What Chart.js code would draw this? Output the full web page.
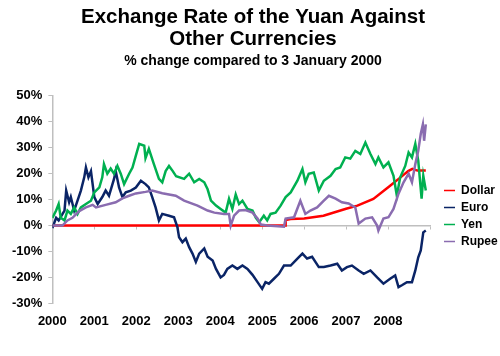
<!DOCTYPE html>
<html><head><meta charset="utf-8">
<script src="https://cdn.jsdelivr.net/npm/chart.js@4"></script>
<style>html,body{margin:0;padding:0;background:#fff}#wrap{width:500px;height:356px}</style>
</head><body><div id="wrap"><canvas id="c" width="500" height="356"></canvas></div>
<script>
const yearTicks = [2000,2001,2002,2003,2004,2005,2006,2007,2008,2009];

const dollarX = [2000,2005.55,2005.56,2005.68,2006.0,2006.46,2007.0,2007.27,2007.65,2008.05,2008.29,2008.48,2008.58,2008.7,2008.9];
const dollarY = [0,0,2.1,2.5,2.7,3.8,6.5,7.7,10.3,15.4,18.5,21.0,21.9,21.2,21.2];

const euroX = [2000,2000.09,2000.15,2000.29,2000.33,2000.4,2000.44,2000.52,2000.6,2000.68,2000.76,2000.8,2000.86,2000.92,2001.0,2001.08,2001.19,2001.27,2001.35,2001.47,2001.51,2001.59,2001.67,2001.75,2001.87,2001.99,2002.11,2002.22,2002.3,2002.38,2002.46,2002.54,2002.62,2002.78,2002.9,2002.98,2003.02,2003.1,2003.18,2003.26,2003.34,2003.42,2003.5,2003.62,2003.7,2003.82,2003.9,2004.01,2004.09,2004.17,2004.29,2004.41,2004.53,2004.65,2004.77,2004.89,2005.0,2005.08,2005.16,2005.28,2005.4,2005.52,2005.68,2005.84,2005.96,2006.07,2006.19,2006.35,2006.47,2006.63,2006.79,2006.9,2007.02,2007.14,2007.3,2007.42,2007.58,2007.74,2007.89,2008.05,2008.17,2008.25,2008.33,2008.45,2008.57,2008.65,2008.72,2008.78,2008.84,2008.9];
const euroY = [-1,3,2,5.8,13.5,9,11,5.8,9.6,13.5,18.6,22.4,18.6,21,11,8.3,11,13.5,11.5,18,21,14.7,11,12.8,13.5,14.7,17.3,16,14.7,11,7,2,4.5,3.8,3.2,-0.6,-4.5,-6.4,-5,-8.3,-10.8,-14,-10.8,-8.8,-12,-13.5,-16.7,-20,-19,-16.7,-15.4,-16.7,-15.4,-16.7,-19,-21.8,-24.4,-21.8,-22.4,-20.5,-18.6,-15.4,-15.4,-12.7,-10.8,-12.7,-12,-16,-16,-15.4,-14.7,-17.3,-16,-15.4,-17.3,-18.6,-17.3,-20,-22.4,-20.5,-19.2,-23.7,-23,-21.8,-21.8,-17.3,-12.2,-9.6,-2.6,-1.9];

const yenX = [2000,2000.09,2000.15,2000.2,2000.29,2000.36,2000.44,2000.52,2000.6,2000.68,2000.8,2000.92,2001.0,2001.12,2001.19,2001.23,2001.31,2001.39,2001.47,2001.55,2001.63,2001.71,2001.83,2001.91,2001.99,2002.07,2002.19,2002.22,2002.3,2002.42,2002.54,2002.62,2002.7,2002.78,2002.87,2002.95,2003.14,2003.26,2003.38,2003.5,2003.62,2003.7,2003.78,2003.9,2004.01,2004.13,2004.21,2004.29,2004.37,2004.45,2004.53,2004.65,2004.77,2004.85,2004.93,2005.04,2005.12,2005.2,2005.32,2005.44,2005.56,2005.68,2005.84,2005.96,2006.03,2006.11,2006.23,2006.35,2006.47,2006.63,2006.75,2006.86,2006.98,2007.1,2007.22,2007.34,2007.46,2007.58,2007.7,2007.77,2007.89,2008.01,2008.13,2008.21,2008.29,2008.41,2008.49,2008.57,2008.65,2008.72,2008.8,2008.84,2008.9];
const yenY = [3,5.8,8.3,3,2,5.8,4.5,7,4.5,7,8.3,9.6,12.8,14.7,18.6,23.7,20,22,20,23,20,16,20,22.4,27,31.5,30.8,26,29.6,23.7,18,16.7,21,23,21,19,18,20,16.7,18,16.7,14,9.6,7.7,6.4,5,10.3,6.4,12,8.3,9.6,6.4,5.8,3,1.3,3.8,2,4.5,5,7.7,11,12.8,17.3,21.8,16.7,20,20.5,13.5,17.3,19.2,21.8,22.4,26.3,25.8,28.8,27.6,32,27.6,23.7,26.3,22.4,24.4,19.2,11.5,18.6,23,28.2,26.3,31.5,25,10.4,19.2,13.5];

const rupeeX = [2000,2000.24,2000.36,2000.48,2000.64,2000.8,2000.96,2001.04,2001.27,2001.51,2001.67,2001.83,2001.99,2002.22,2002.38,2002.62,2002.94,2003.14,2003.46,2003.7,2003.86,2004.09,2004.21,2004.25,2004.33,2004.45,2004.6,2004.77,2004.89,2004.97,2005.12,2005.52,2005.56,2005.76,2005.91,2006.03,2006.15,2006.31,2006.47,2006.59,2006.75,2006.9,2007.06,2007.22,2007.3,2007.46,2007.62,2007.74,2007.77,2007.89,2008.01,2008.13,2008.25,2008.37,2008.49,2008.57,2008.65,2008.72,2008.78,2008.83,2008.86,2008.9];
const rupeeY = [0,0,2,3,5.6,7,8,7,8,9,10.5,11.5,12.4,13,13.5,12.5,11.5,9.6,7.7,5.8,5,4.5,4.5,0,3.8,5.8,6,5,2.7,0.4,0,-0.4,2.7,3.2,9.6,4.5,5.8,7,9.6,11.5,10.4,9,8.5,7,0.8,2.7,3.2,0,-1.9,2.7,3.2,6.4,12.3,16.7,20,16.7,23.7,28.8,35.4,39,32.7,39];

const yTickMin = -30, yTickMax = 50, yTickStep = 10;

function pts(xs, ys){ return xs.map((x,i)=>({x:x, y:ys[i]})); }

const FONT = "'Liberation Sans', Arial, sans-serif";

new Chart(document.getElementById('c'), {
  type: 'line',
  data: {
    datasets: [
      {label:'Dollar', data: pts(dollarX, dollarY), borderColor:'#FF0000', backgroundColor:'#FF0000', borderWidth:2.5, order:4},
      {label:'Euro', data: pts(euroX, euroY), borderColor:'#0A2466', backgroundColor:'#0A2466', borderWidth:2.5, order:3},
      {label:'Yen', data: pts(yenX, yenY), borderColor:'#00B050', backgroundColor:'#00B050', borderWidth:2.5, order:2},
      {label:'Rupee', data: pts(rupeeX, rupeeY), borderColor:'#8A6CB0', backgroundColor:'#8A6CB0', borderWidth:2.5, order:1}
    ]
  },
  options: {
    responsive: false,
    animation: false,
    devicePixelRatio: 1,
    layout: {padding: {left: 6, right: 0, top: 4, bottom: 25}},
    elements: {point: {radius: 0}, line: {tension: 0}},
    plugins: {
      tooltip: {enabled: false},
      title: {display: true, text: ['Exchange Rate of the Yuan Against','Other Currencies'],
        color:'#000', font:{family: FONT, size: 20.5, weight:'bold', lineHeight: 1.1}, padding:{top:2,bottom:0}},
      subtitle: {display: true, text: '% change compared to 3 January 2000',
        color:'#000', font:{family: FONT, size: 14, weight:'bold'}, padding:{top:2,bottom:26}},
      legend: {position:'right', align:'center', fullSize:false, maxWidth:61,
        title:{display:true, text:' ', font:{size:1, lineHeight:1}, padding:{top:31.6, bottom:0}},
        labels:{usePointStyle:true, pointStyle:'line', pointStyleWidth:11, boxHeight:12, color:'#000',
          font:{family: FONT, size: 12, weight:'bold'}, padding: 5,
          sort:(a,b)=>a.datasetIndex-b.datasetIndex,
          generateLabels:(chart)=>Chart.defaults.plugins.legend.labels.generateLabels(chart).map(it=>Object.assign(it,{lineWidth:1.5}))}}
    },
    scales: {
      x: {type:'linear', min:2000, max:2009, position:'bottom',
        afterBuildTicks: (s)=>{ s.ticks = yearTicks.map(v=>({value:v})); },
        ticks:{color:'#000', font:{family: FONT, size: 13, weight:'bold'}, padding: 2, maxRotation:0, autoSkip:false,
          callback:(v)=> v===2009 ? '' : String(v)},
        grid:{display:false}, border:{display:false}},
      x0: {type:'linear', min:2000, max:2009, position:{y:0}, axis:'x',
        afterBuildTicks: (s)=>{ s.ticks = yearTicks.map(v=>({value:v})); },
        ticks:{display:false},
        grid:{drawOnChartArea:false, tickLength:3, color:'#BFBFBF'}, border:{color:'#BFBFBF', width:1.5}},
      y: {min:yTickMin, max:yTickMax,
        ticks:{stepSize:yTickStep, color:'#000', font:{family: FONT, size: 13, weight:'bold'}, padding: 6,
          callback:(v)=>v+'%'},
        grid:{drawOnChartArea:false, tickLength:4, color:'#BFBFBF'}, border:{color:'#BFBFBF', width:1.5}},
      y2: {position:'right', display:true, ticks:{display:false}, grid:{display:false}, border:{display:false},
        afterFit:(s)=>{ s.width = 9; }}
    }
  }
});
</script></body></html>
